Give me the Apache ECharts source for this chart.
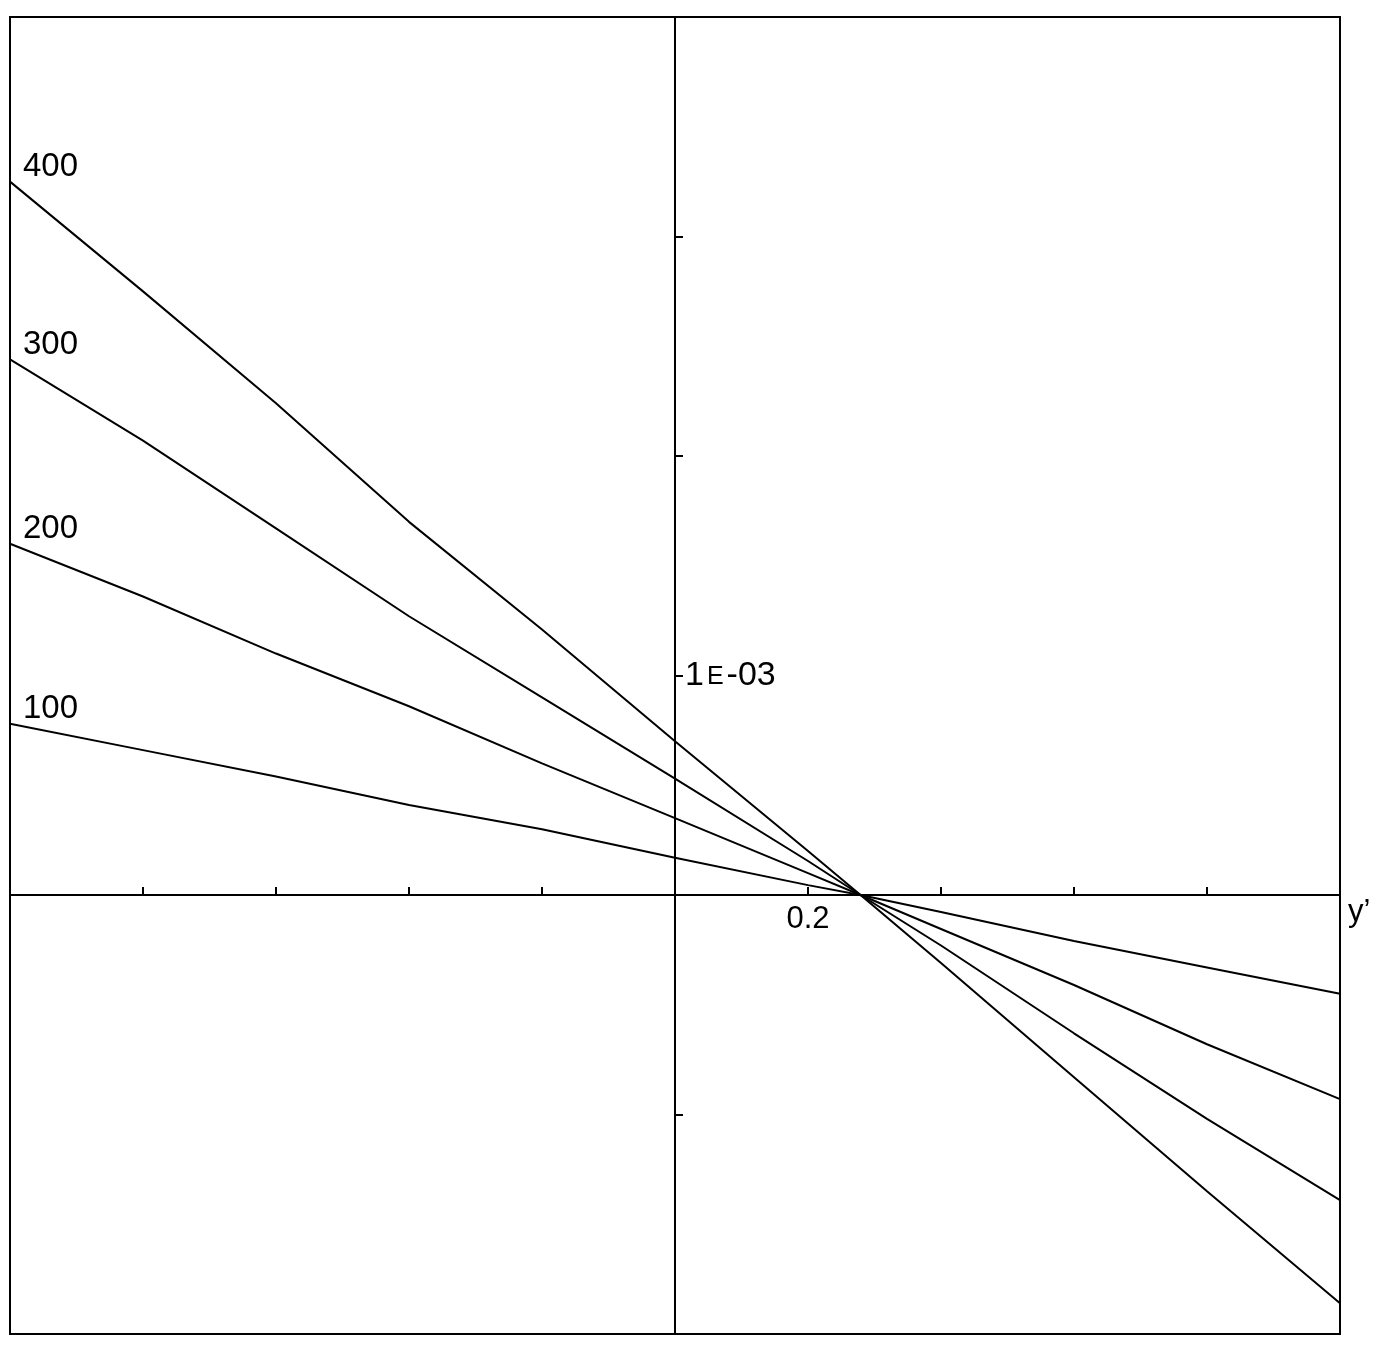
<!DOCTYPE html>
<html>
<head>
<meta charset="utf-8">
<style>html,body{margin:0;padding:0;background:#fff}#c{width:1376px;height:1346px}</style>
<script src="https://cdn.jsdelivr.net/npm/echarts@6/dist/echarts.min.js"></script>
</head>
<body>
<div id="c"></div>
<script>
// x positions (y' variable) and curve values (units of 1E-03)
var xs = [-1, -0.8, -0.6, -0.4, -0.2, 0, 0.2, 0.279, 0.4, 0.6, 0.8, 1];
var seriesNames = ['100', '200', '300', '400'];
var v100 = [0.78, 0.66, 0.54, 0.41, 0.30, 0.17, 0.045, 0, -0.077, -0.21, -0.33, -0.45];
var v200 = [1.60, 1.36, 1.10, 0.86, 0.60, 0.35, 0.10, 0, -0.155, -0.41, -0.68, -0.93];
var v300 = [2.44, 2.07, 1.67, 1.27, 0.90, 0.53, 0.155, 0, -0.23, -0.63, -1.02, -1.39];
var v400 = [3.25, 2.75, 2.24, 1.70, 1.21, 0.70, 0.20, 0, -0.31, -0.83, -1.35, -1.86];
var xTickLabel = '0.2';
var yTickLabel = '1{e|E}-03';
var xName = 'y\u2019';

var FONT = 'Liberation Sans, Arial, sans-serif';
var W = 1376, H = 1346;
var G = {left: 10, right: 36, top: 17, bottom: 12};
var XMIN = -1, XMAX = 1, YMIN = -0.002, YMAX = 0.004;
var plotW = W - G.left - G.right, plotH = H - G.top - G.bottom;
// axis offsets so the axes pass through zero
var xOff = -(plotH * (0 - YMIN) / (YMAX - YMIN));
var yOff = -(plotW * (0 - XMIN) / (XMAX - XMIN));

function mk(name, vals) {
  return {
    type: 'line', name: name,
    showSymbol: true, symbol: 'circle', symbolSize: 0,
    lineStyle: {color: '#000', width: 2},
    itemStyle: {color: '#000'},
    silent: true, animation: false,
    data: vals.map(function (v, i) {
      var d = {value: [xs[i], v * 1e-3]};
      if (i === 0) {
        d.label = {show: true, formatter: name, position: 'right', offset: [8, -15],
          color: '#000', fontSize: 33, fontFamily: FONT};
      }
      return d;
    })
  };
}
var chart = echarts.init(document.getElementById('c'));
chart.setOption({
  backgroundColor: '#fff',
  animation: false,
  grid: {left: G.left, right: G.right, top: G.top, bottom: G.bottom, outerBoundsMode: 'none', containLabel: false,
    show: true, borderColor: '#000', borderWidth: 2, backgroundColor: 'transparent'},
  xAxis: {
    type: 'value', min: XMIN, max: XMAX, interval: 0.2, position: 'bottom', offset: xOff,
    axisLine: {show: true, onZero: false, lineStyle: {color: '#000', width: 2}},
    axisTick: {show: true, inside: true, length: 8, lineStyle: {color: '#000', width: 2}},
    axisLabel: {show: true, color: '#000', fontSize: 31, fontFamily: FONT, margin: 9,
      formatter: function (v) { return Math.abs(v - 0.2) < 1e-9 ? xTickLabel : ''; }},
    splitLine: {show: false},
    name: xName, nameLocation: 'end', nameGap: 8,
    nameTextStyle: {color: '#000', fontSize: 31, fontFamily: FONT, verticalAlign: 'top', padding: [2, 0, 0, 0]}
  },
  yAxis: {
    type: 'value', min: YMIN, max: YMAX, interval: 0.001, position: 'left', offset: yOff,
    axisLine: {show: true, onZero: false, lineStyle: {color: '#000', width: 2}},
    axisTick: {show: true, inside: true, length: 8, lineStyle: {color: '#000', width: 2}},
    axisLabel: {show: true, inside: true, color: '#000', fontSize: 34, fontFamily: FONT, margin: 10,
      rich: {e: {fontSize: 25, fontFamily: FONT, color: '#000', padding: [4, 3, 0, 3]}},
      formatter: function (v) { return Math.abs(v - 0.001) < 1e-12 ? yTickLabel : ''; }},
    splitLine: {show: false}
  },
  series: [mk(seriesNames[0], v100), mk(seriesNames[1], v200), mk(seriesNames[2], v300), mk(seriesNames[3], v400)]
});
</script>
</body>
</html>
